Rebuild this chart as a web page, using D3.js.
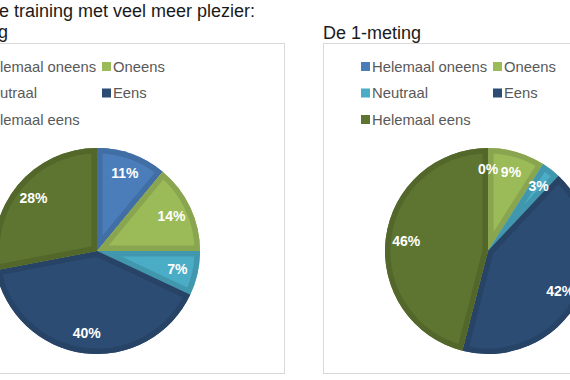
<!DOCTYPE html>
<html>
<head>
<meta charset="utf-8">
<script src="https://cdn.jsdelivr.net/npm/d3@7"></script>
<style>
  html, body { margin: 0; padding: 0; background: #fff; }
  svg { display: block; }
  text { font-family: Arial, "Liberation Sans", sans-serif; }
</style>
</head>
<body>
<svg id="chart" width="570" height="380"></svg>
<script>
const categories = ["Helemaal oneens", "Oneens", "Neutraal", "Eens", "Helemaal eens"];
const values0 = [11, 14, 7, 40, 28];
const values1 = [0, 9, 3, 42, 46];
const title0 = ["Ik volg de training met veel meer plezier:", "De 0-meting"];
const title1 = ["De 1-meting"];
const colors = ["#4a7dba", "#9bbb59", "#4aacc5", "#2c4c74", "#5e7531"];

const svg = d3.select("#chart");
const color = d3.scaleOrdinal().domain(categories).range(colors);

const panels = [
  { x: -68, values: values0, title: title0, anchor: "end", titleX: [255, 8] },
  { x: 323, values: values1, title: title1, anchor: "start", titleX: [323] }
];

const panelTop = 43, panelW = 352, panelH = 330;
const radius = 103;

panels.forEach((p, pi) => {
  const tY = p.title.length === 2 ? [17, 38] : [39];
  p.title.forEach((t, i) => {
    svg.append("text")
      .attr("x", p.titleX[i])
      .attr("y", tY[i])
      .attr("text-anchor", p.anchor)
      .attr("font-size", 18)
      .attr("fill", "#1a1a1a")
      .text(t);
  });

  const g = svg.append("g").attr("transform", `translate(${p.x},${panelTop})`);
  g.append("rect")
    .attr("x", 0.5).attr("y", 0.5)
    .attr("width", panelW).attr("height", panelH)
    .attr("fill", "#fff")
    .attr("stroke", "#d9d9d9")
    .attr("stroke-width", 1);

  const leg = g.append("g");
  categories.forEach((c, i) => {
    const col = i % 2, row = Math.floor(i / 2);
    const lx = 38 + col * 132;
    const ly = 23.5 + row * 26.5;
    leg.append("rect")
      .attr("x", lx).attr("y", ly - 4.5)
      .attr("width", 9).attr("height", 9)
      .attr("fill", color(c));
    leg.append("text")
      .attr("x", lx + 11).attr("y", ly + 5)
      .attr("font-size", 14.8)
      .attr("fill", "#595959")
      .text(c);
  });

  const pie = d3.pie().sort(null).value(d => d.v);
  const data = pie(categories.map((c, i) => ({ c, v: p.values[i] })));
  const arc = d3.arc().innerRadius(0).outerRadius(radius);
  const labelArc = d3.arc().innerRadius(radius * 0.8).outerRadius(radius * 0.8);
  const pg = g.append("g").attr("transform", `translate(165,208)`);

  const defs = svg.append("defs");
  data.forEach((d, i) => {
    const id = `clip-${pi}-${i}`;
    defs.append("clipPath").attr("id", id).append("path").attr("d", arc(d));
    pg.append("path")
      .attr("d", arc(d))
      .attr("fill", color(d.data.c));
    pg.append("path")
      .attr("d", arc(d))
      .attr("fill", "none")
      .attr("stroke", d3.color(color(d.data.c)).darker(0.35))
      .attr("stroke-width", 11)
      .attr("stroke-linejoin", "miter")
      .attr("clip-path", `url(#${id})`);
  });

  data.forEach(d => {
    const [lx, ly] = labelArc.centroid(d);
    pg.append("text")
      .attr("x", lx).attr("y", ly + 5)
      .attr("text-anchor", "middle")
      .attr("font-size", 14)
      .attr("font-weight", "bold")
      .attr("fill", "#fff")
      .text(d.data.v + "%");
  });
});
</script>
</body>
</html>
